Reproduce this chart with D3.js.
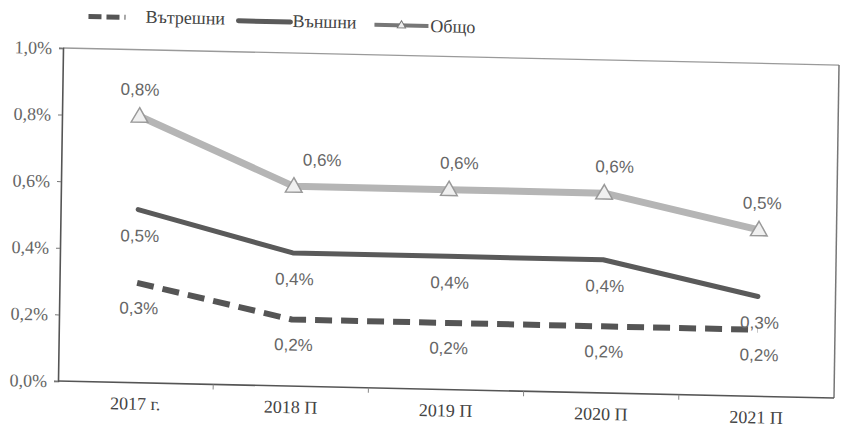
<!DOCTYPE html>
<html><head><meta charset="utf-8">
<script src="https://cdn.jsdelivr.net/npm/d3@7"></script>
<style>body{margin:0;background:#fff}svg{display:block}</style>
</head><body>
<svg id="c" width="842" height="429"></svg>
<script>
const categories = ["2017 г.", "2018 П", "2019 П", "2020 П", "2021 П"];
const vatreshni = [0.30, 0.20, 0.20, 0.20, 0.20];
const vanshni   = [0.52, 0.40, 0.40, 0.40, 0.30];
const obshto    = [0.80, 0.60, 0.60, 0.60, 0.50];
const yTicks = [0, 0.2, 0.4, 0.6, 0.8, 1.0];
const seriesNames = ["Вътрешни", "Външни", "Общо"];

const W = 776, H = 333;
const loc = d3.formatLocale({decimal: ",", thousands: " ", grouping: [3], currency: ["", ""]});
const f1 = loc.format(".1f");
const pct = v => f1(v) + "%";

const svg = d3.select("#c");
const g = svg.append("g").attr("transform", "translate(63,48) matrix(1,0.022,-0.015,1,0,0)");

const x = d3.scaleBand().domain(categories).range([0, W]);
const y = d3.scaleLinear().domain([0, 1]).range([H, 0]);
const cx = c => x(c) + x.bandwidth() / 2;

// frame
g.append("line").attr("x1", 0).attr("x2", W).attr("y1", 0).attr("y2", 0)
  .attr("stroke", "#9a9a9a").attr("stroke-width", 1.3);
g.append("line").attr("x1", W).attr("x2", W).attr("y1", 0).attr("y2", H)
  .attr("stroke", "#777").attr("stroke-width", 1.5);

// y axis
const ya = g.append("g").call(d3.axisLeft(y).tickValues(yTicks).tickFormat(pct).tickSize(4).tickPadding(7));
ya.select(".domain").attr("stroke", "#555").attr("stroke-width", 1.6);
ya.selectAll(".tick line").attr("stroke", "#777");
ya.selectAll(".tick text").attr("font-family", "Liberation Serif, serif").attr("font-size", 18).attr("fill", "#666");

// x axis
const xa = g.append("g").attr("transform", `translate(0,${H})`);
xa.append("line").attr("x1", 0).attr("x2", W).attr("stroke", "#555").attr("stroke-width", 1.6);
xa.selectAll("line.tk").data(categories.slice(1)).join("line").attr("class", "tk")
  .attr("x1", d => x(d)).attr("x2", d => x(d)).attr("y1", 0).attr("y2", 5)
  .attr("stroke", "#888").attr("stroke-width", 1);
xa.selectAll("text").data(categories).join("text")
  .attr("x", d => cx(d)).attr("y", 27).attr("text-anchor", "middle")
  .attr("font-family", "Liberation Serif, serif").attr("font-size", 18).attr("fill", "#444")
  .text(d => d);

const line = d3.line().x((d, i) => cx(categories[i])).y(d => y(d));

const styles = [
  {data: vatreshni, color: "#555", width: 6, dash: "17,9", labelDy: 31},
  {data: vanshni, color: "#5a5a5a", width: 5, dash: null, labelDy: 32},
  {data: obshto, color: "#b5b5b5", width: 7, dash: null, labelDy: -21}
];

styles.forEach(s => {
  g.append("path").datum(s.data).attr("d", line).attr("fill", "none")
    .attr("stroke", s.color).attr("stroke-width", s.width)
    .attr("stroke-linecap", s.dash ? "butt" : "round").attr("stroke-linejoin", "round")
    .attr("stroke-dasharray", s.dash);
});

// triangle markers for Общо
g.selectAll("path.mk").data(obshto).join("path").attr("class", "mk")
  .attr("d", d3.symbol(d3.symbolTriangle, 120))
  .attr("transform", (d, i) => `translate(${cx(categories[i])},${y(d) + 1})`)
  .attr("fill", "#f0f0f0").attr("stroke", "#999").attr("stroke-width", 1.5);

// data labels
const labelShift = [0, 28, 10, 10, 3];
styles.forEach((s, k) => {
  g.selectAll("text.l" + k).data(s.data).join("text").attr("class", "l" + k)
    .attr("x", (d, i) => cx(categories[i]) + (k === 2 ? labelShift[i] : 2))
    .attr("y", d => y(d) + s.labelDy)
    .attr("text-anchor", "middle")
    .attr("font-family", "Liberation Sans, sans-serif").attr("font-size", 17).attr("fill", "#666")
    .text(d => pct(d));
});

// legend
const lg = g.append("g").attr("transform", "translate(25,-32)");
lg.append("line").attr("x1", 0).attr("x2", 37).attr("y1", 0).attr("y2", 0)
  .attr("stroke", "#555").attr("stroke-width", 5).attr("stroke-dasharray", "13,5");
lg.append("text").attr("x", 57).attr("y", 5).text(seriesNames[0]);
lg.append("line").attr("x1", 150).attr("x2", 202).attr("y1", 1).attr("y2", 1)
  .attr("stroke", "#5a5a5a").attr("stroke-width", 5).attr("stroke-linecap", "round");
lg.append("text").attr("x", 204).attr("y", 6).text(seriesNames[1]);
lg.append("line").attr("x1", 286).attr("x2", 340).attr("y1", 2).attr("y2", 2)
  .attr("stroke", "#777").attr("stroke-width", 4);
lg.append("path").attr("d", d3.symbol(d3.symbolTriangle, 30))
  .attr("transform", "translate(313,2)").attr("fill", "#eee").attr("stroke", "#777");
lg.append("text").attr("x", 342).attr("y", 8).text(seriesNames[2]);
lg.selectAll("text").attr("font-family", "Liberation Serif, serif").attr("font-size", 18).attr("fill", "#444");
</script>
</body></html>
